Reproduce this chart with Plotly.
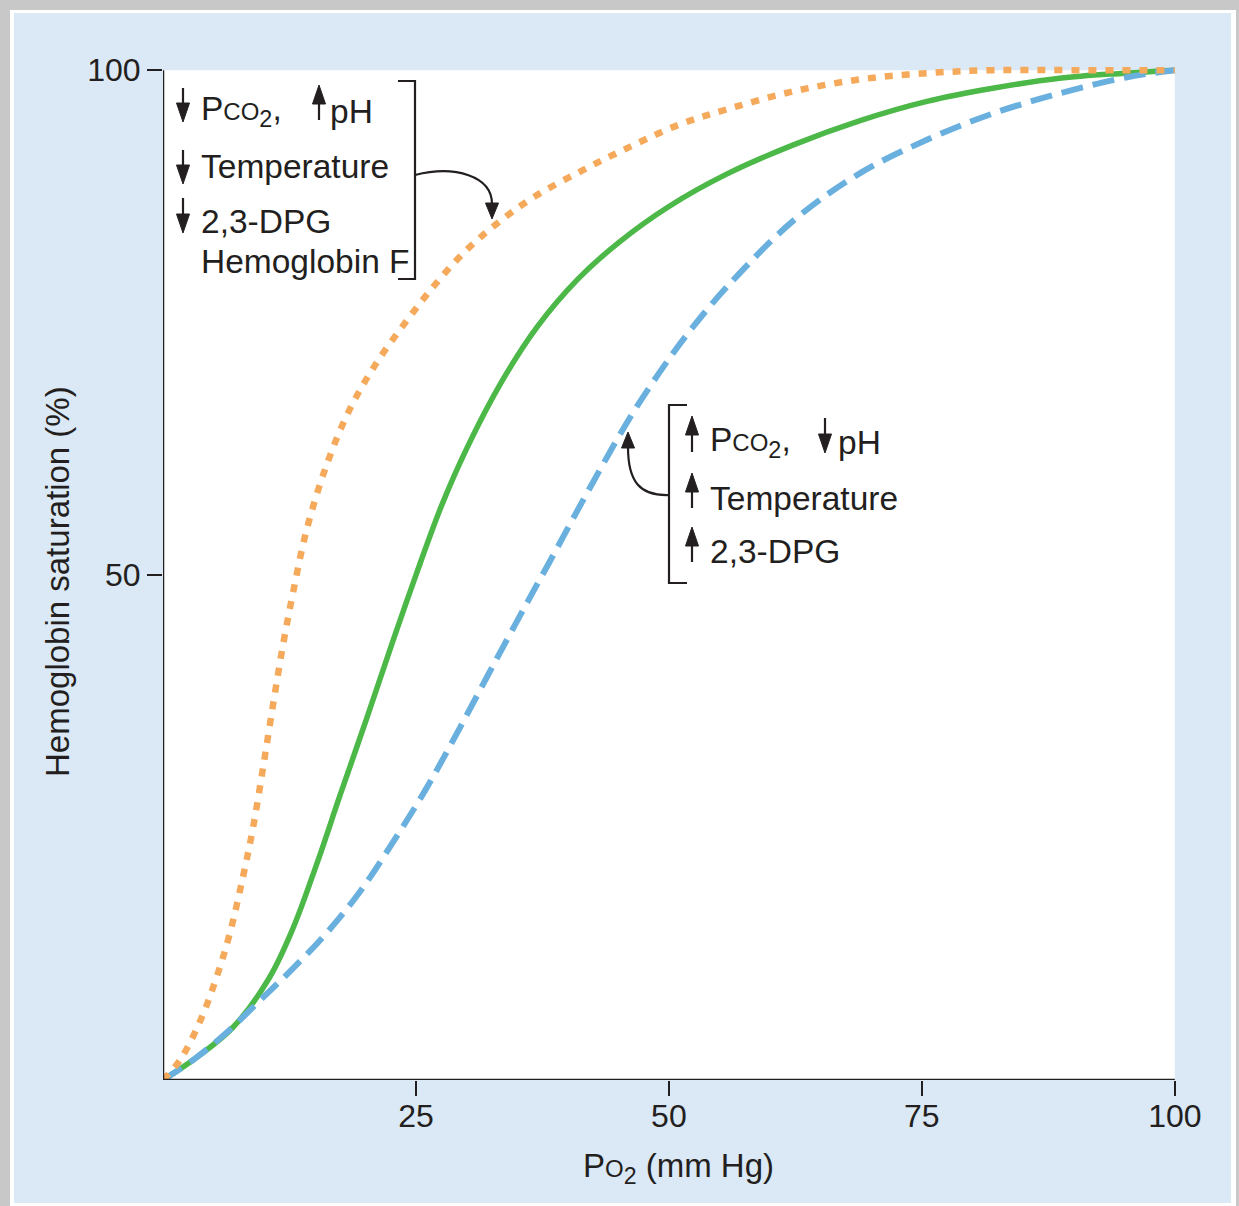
import plotly.graph_objects as go

# ---------------- data ----------------
po2_normal = [0, 3, 6.9, 10.5, 12.8, 15.2, 17.5, 20.2, 22.7, 25, 27.5, 30, 33.5, 37, 41, 45,
              50, 55.7, 62.3, 68.9, 75.5, 82, 88.6, 95, 100]
sat_normal = [0, 2, 5.2, 10.1, 14.9, 21.4, 28.2, 36, 43.4, 50, 56.8, 62.5, 69.2, 74.6, 79.3, 82.9,
              86.5, 89.7, 92.6, 95.0, 96.9, 98.2, 99.2, 99.7, 100]

po2_left = [0, 1.7, 3.7, 5.3, 6.6, 7.9, 8.9, 9.9, 10.9, 11.9, 12.9, 14.2, 16.2, 18.5, 21.1,
            24.1, 27, 30, 33, 36.6, 41.5, 45.5, 51, 56, 62.3, 69, 75.5, 82, 90, 100]
sat_left = [0, 2, 5.9, 10.2, 14.5, 20.1, 25, 31, 37.3, 43.3, 48.5, 54.5, 61, 66.5, 71,
            75.2, 78.9, 82.2, 84.8, 87.4, 90.1, 92.1, 94.6, 96.2, 97.9, 99.1, 99.7, 100, 100, 100]

po2_right = [0, 3, 6.3, 9.6, 12.8, 16.2, 19.5, 22.7, 26.1, 29.3, 32.6, 36, 38.2, 42.5, 46.4,
             50, 52.4, 55.7, 62.3, 68.9, 75.5, 82, 88.6, 95.3, 100]
sat_right = [0, 2, 4.7, 7.9, 11.0, 14.6, 18.7, 23.5, 29.0, 34.8, 41.0, 47.3, 51.3, 59.2, 66.0,
             71.4, 74.6, 78.5, 85.1, 89.8, 93.1, 95.7, 97.7, 99.3, 100]

x_ticks = [25, 50, 75, 100]
y_ticks = [50, 100]

x_title = "P<span style='font-size:24px'>O</span><sub>2</sub> (mm Hg)"
y_title = "Hemoglobin saturation (%)"
PCO2 = "P<span style='font-size:24px'>CO</span><sub>2</sub>,"
left_labels = [PCO2, "pH", "Temperature", "2,3-DPG", "Hemoglobin F"]
right_labels = [PCO2, "pH", "Temperature", "2,3-DPG"]

# ---------------- layout geometry ----------------
W, H = 1239, 1206
L, R, T, B = 163, 49, 55, 126
XR = [0, 101.5]
YR = [0, 101.5]
PW = W - L - R
PH = H - T - B

def dx(px):
    return (px - L) / PW * XR[1]

def dy(py):
    return (H - B - py) / PH * YR[1]

def ppx(px):
    return (px - L) / PW

def ppy(py):
    return (H - B - py) / PH

INK = "#231f20"
FONT = "Liberation Sans, Arial, sans-serif"
GREEN = "#4cb848"
ORANGE = "#f5a95b"
BLUE = "#6ab0df"

fig = go.Figure()
fig.add_trace(go.Scatter(x=po2_normal, y=sat_normal, mode="lines",
                         line=dict(color=GREEN, width=5.5, shape="spline", smoothing=1),
                         hoverinfo="skip", showlegend=False))
fig.add_trace(go.Scatter(x=po2_right, y=sat_right, mode="lines",
                         line=dict(color=BLUE, width=6, dash="22px,10px", shape="spline", smoothing=1),
                         hoverinfo="skip", showlegend=False))
fig.add_trace(go.Scatter(x=po2_left, y=sat_left, mode="lines",
                         line=dict(color=ORANGE, width=6.5, dash="8px,9px", shape="spline", smoothing=1),
                         hoverinfo="skip", showlegend=False))

shapes = []

def prect(x0, y0, x1, y1, color):
    shapes.append(dict(type="rect", xref="paper", yref="paper", layer="below",
                       x0=ppx(x0), x1=ppx(x1), y0=ppy(y1), y1=ppy(y0),
                       fillcolor=color, line=dict(width=0)))

prect(10, 10, 1236, 1206, "#ffffff")
prect(14, 13, 1231, 1203, "#dbe8f5")
# white plotting area
shapes.append(dict(type="rect", xref="x", yref="y", layer="below", x0=0, x1=100, y0=0, y1=100,
                   fillcolor="#ffffff", line=dict(width=0)))
# axis lines
shapes.append(dict(type="line", xref="x", yref="y", x0=0, x1=100, y0=0, y1=0,
                   line=dict(color=INK, width=2.5)))
shapes.append(dict(type="line", xref="x", yref="y", x0=0, x1=0, y0=0, y1=100,
                   line=dict(color=INK, width=2.5)))

def seg(pts, width=2.2):
    path = "M " + " L ".join(f"{dx(a)},{dy(b)}" for a, b in pts)
    shapes.append(dict(type="path", xref="x", yref="y", path=path,
                       line=dict(color=INK, width=width)))

def tri(pts):
    path = "M " + " L ".join(f"{dx(a)},{dy(b)}" for a, b in pts) + " Z"
    shapes.append(dict(type="path", xref="x", yref="y", path=path,
                       fillcolor=INK, line=dict(color=INK, width=1)))

def varrow(xc, tail, tip, hl=19, hw=6.5):
    s = 1 if tip > tail else -1
    base = tip - s * hl
    seg([(xc, tail), (xc, base + s * 1)])
    tri([(xc - hw, base), (xc + hw, base), (xc, tip)])

# upper-left group arrows
varrow(183, 88, 122)
varrow(319, 120, 85)
varrow(183, 150, 184)
varrow(183, 198, 233)
# lower group arrows
varrow(692, 452, 416)
varrow(825, 418, 453)
varrow(692, 508, 473)
varrow(692, 562, 527)

# brackets
seg([(398, 81), (415, 81), (415, 279), (398, 279)])
seg([(687, 405), (669, 405), (669, 583), (687, 583)])

def cpath(p0, c1, c2, p1):
    path = (f"M {dx(p0[0])},{dy(p0[1])} C {dx(c1[0])},{dy(c1[1])} "
            f"{dx(c2[0])},{dy(c2[1])} {dx(p1[0])},{dy(p1[1])}")
    shapes.append(dict(type="path", xref="x", yref="y", path=path,
                       line=dict(color=INK, width=2.2)))

cpath((415, 175), (455, 165), (492, 176), (492, 204))
tri([(485.5, 203), (498.5, 203), (492, 219)])
cpath((669, 495), (640, 496), (628, 482), (628, 447))
tri([(621.5, 448), (634.5, 448), (628, 432)])

annotations = []

def txt(px, py, s, anchor="left", size=33.5, angle=0):
    annotations.append(dict(x=ppx(px), y=ppy(py), xref="paper", yref="paper", text=s,
                            showarrow=False, xanchor=anchor, yanchor="middle",
                            textangle=angle,
                            font=dict(family=FONT, size=size, color=INK)))

txt(199, 111, left_labels[0])
txt(328, 111, left_labels[1])
txt(199, 166, left_labels[2])
txt(199, 221, left_labels[3])
txt(199, 262, left_labels[4])

txt(708, 442, right_labels[0])
txt(836, 442, right_labels[1])
txt(708, 498, right_labels[2])
txt(708, 551, right_labels[3])

txt(678, 1168, x_title, anchor="center", size=33)
txt(57, 582, y_title, anchor="center", size=33, angle=-90)

fig.update_layout(
    width=W, height=H,
    margin=dict(l=L, r=R, t=T, b=B, pad=0),
    paper_bgcolor="#c8c8c8",
    plot_bgcolor="rgba(0,0,0,0)",
    shapes=shapes,
    annotations=annotations,
    showlegend=False,
    xaxis=dict(range=XR, tickmode="array", tickvals=x_ticks, ticktext=[str(v) for v in x_ticks],
               ticks="outside", ticklen=15, tickwidth=2, tickcolor=INK, ticklabelstandoff=-7,
               showgrid=False, zeroline=False, showline=False, fixedrange=True,
               tickfont=dict(family=FONT, size=32, color=INK)),
    yaxis=dict(range=YR, tickmode="array", tickvals=y_ticks, ticktext=[str(v) for v in y_ticks],
               ticks="outside", ticklen=15, tickwidth=2, tickcolor=INK,
               showgrid=False, zeroline=False, showline=False, fixedrange=True,
               tickfont=dict(family=FONT, size=32, color=INK)),
)

fig.write_html("out.html", config={"displayModeBar": False},
               post_script="document.body.style.margin='0';document.body.style.overflow='hidden';")
